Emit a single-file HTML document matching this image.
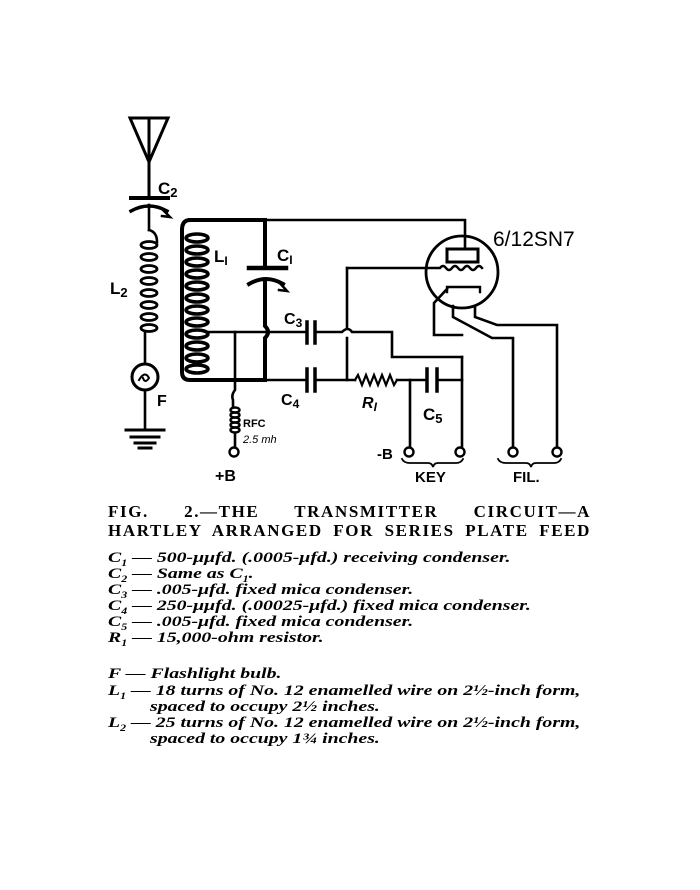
<!DOCTYPE html>
<html><head><meta charset="utf-8"><style>
html,body{margin:0;padding:0;background:#fff;}
body{width:700px;height:890px;position:relative;overflow:hidden;}
svg{position:absolute;left:0;top:0;}
.t{position:absolute;font-family:"Liberation Serif",serif;font-weight:bold;color:#000;white-space:nowrap;}
.h{font-size:17px;left:108px;width:483px;text-align:justify;text-align-last:justify;letter-spacing:1.6px;}
.l{font-size:15px;font-style:italic;left:108px;transform:scaleX(1.32);transform-origin:0 0;}
</style></head><body>
<svg width="700" height="890" viewBox="0 0 700 890" fill="none" stroke="#000" stroke-width="2.6" stroke-linecap="square">
<path d="M130 118 L168 118 L149 162 Z M149 118 L149 198" stroke-width="3"/>
<path d="M131 198 H168" stroke-width="4"/>
<path d="M131 211 Q149 201 167 211" stroke-width="3.5"/>
<path d="M161 208 L170 217 L162 216" stroke-width="2.5"/>
<path d="M149 205 V230"/>
<path d="M149 230 q8 2 8 12" />
<g stroke-width="2.8">
<ellipse cx="149" cy="245" rx="8" ry="3.5"/><ellipse cx="149" cy="257" rx="8" ry="3.5"/>
<ellipse cx="149" cy="269" rx="8" ry="3.5"/><ellipse cx="149" cy="281" rx="8" ry="3.5"/>
<ellipse cx="149" cy="293" rx="8" ry="3.5"/><ellipse cx="149" cy="305" rx="8" ry="3.5"/>
<ellipse cx="149" cy="317" rx="8" ry="3.5"/><ellipse cx="149" cy="328" rx="8" ry="3.5"/>
</g>
<path d="M145 333 V364"/>
<circle cx="145" cy="377" r="13" stroke-width="3"/>
<path d="M139 380 q6 -10 10 -2 q-4 6 -6 0" stroke-width="2"/>
<path d="M145 390 V430"/>
<path d="M126 430 H164 M131 437 H159 M135 443 H155 M139 448 H151" stroke-width="3"/>
<path d="M190 220 H265 M182 230 Q182 220 190 220 M182 230 V372 Q182 380 190 380 H265" stroke-width="4"/>
<g stroke-width="3.5">
<ellipse cx="197" cy="238" rx="11" ry="4"/><ellipse cx="197" cy="250" rx="11" ry="4"/>
<ellipse cx="197" cy="262" rx="11" ry="4"/><ellipse cx="197" cy="274" rx="11" ry="4"/>
<ellipse cx="197" cy="286" rx="11" ry="4"/><ellipse cx="197" cy="298" rx="11" ry="4"/>
<ellipse cx="197" cy="310" rx="11" ry="4"/><ellipse cx="197" cy="322" rx="11" ry="4"/>
<ellipse cx="197" cy="334" rx="11" ry="4"/><ellipse cx="197" cy="346" rx="11" ry="4"/>
<ellipse cx="197" cy="358" rx="11" ry="4"/><ellipse cx="197" cy="369" rx="11" ry="4"/>
</g>
<path d="M265 220 V268" stroke-width="4"/>
<path d="M249 268 H286" stroke-width="4.5"/>
<path d="M249 284 Q266 274 283 284" stroke-width="4"/>
<path d="M278 281 L287 291 L279 290" stroke-width="2.5"/>
<path d="M265 280 V326 Q271 332 265 338 V380" stroke-width="4"/>
<path d="M265 220 H465 V249"/>
<rect x="447" y="249" width="31" height="13" stroke-width="3"/>
<circle cx="462" cy="272" r="36" stroke-width="2.8"/>
<path d="M347 268 H440 q3 -4 6 0 q3 4 6 0 q3 -4 6 0 q3 4 6 0 q3 -4 6 0 q3 4 6 0 q3 -4 6 0" stroke-width="2.4"/>
<path d="M447 292 V287 H480 V292" stroke-width="2.4"/>
<path d="M208 332 H307 M315 332 H342 Q348 326 352 332 H392 V357 H462"/>
<path d="M307 322 V343 M315 322 V343" stroke-width="3.5"/>
<path d="M347 268 V327 M347 338 V380"/>
<path d="M265 380 H307 M315 380 H355 M397 380 H427 M437 380 H462"/>
<path d="M307 369 V391 M315 369 V391 M427 369 V391 M437 369 V391" stroke-width="3.5"/>
<path d="M355 380 l3 -5 l4 10 l4 -10 l4 10 l4 -10 l4 10 l4 -10 l4 10 l4 -10 l4 10 l3 -5" stroke-width="2.2"/>
<path d="M410 380 V446"/>
<circle cx="409" cy="452" r="4.5" stroke-width="2.4"/>
<path d="M447 289 L434 303 V335 H462 M462 357 V446"/>
<circle cx="460" cy="452" r="4.5" stroke-width="2.4"/>
<path d="M453 306 V317 L492 338 H513 V446 M475 306 V317 L497 325 H557 V446"/>
<circle cx="513" cy="452" r="4.5" stroke-width="2.4"/>
<circle cx="557" cy="452" r="4.5" stroke-width="2.4"/>
<path d="M235 332 V380 M235 380 V390 Q231 395 233 400 V407"/>
<g stroke-width="2.4">
<ellipse cx="235" cy="410" rx="4.5" ry="2.5"/><ellipse cx="235" cy="415" rx="4.5" ry="2.5"/>
<ellipse cx="235" cy="420" rx="4.5" ry="2.5"/><ellipse cx="235" cy="425" rx="4.5" ry="2.5"/>
<ellipse cx="235" cy="430" rx="4.5" ry="2.5"/>
</g>
<path d="M235 433 V446"/>
<circle cx="234" cy="452" r="4.5" stroke-width="2.4"/>
<path d="M402 459 Q404 463 410 463 H428 Q432 463 433 467 Q434 463 438 463 H456 Q461 463 463 459" stroke-width="1.8"/>
<path d="M498 459 Q500 463 506 463 H526 Q530 463 531 467 Q532 463 536 463 H554 Q559 463 561 459" stroke-width="1.8"/>
<g fill="#000" stroke="none" font-family="Liberation Sans, sans-serif" font-weight="bold">
<text x="158" y="194" font-size="17">C<tspan font-size="13" dy="3">2</tspan></text>
<text x="110" y="294" font-size="17">L<tspan font-size="13" dy="3">2</tspan></text>
<text x="214" y="262" font-size="17">L<tspan font-size="12" dy="3">I</tspan></text>
<text x="277" y="261" font-size="17">C<tspan font-size="12" dy="3">I</tspan></text>
<text x="284" y="324" font-size="16">C<tspan font-size="12" dy="3">3</tspan></text>
<text x="281" y="405" font-size="16">C<tspan font-size="12" dy="3">4</tspan></text>
<text x="362" y="408" font-size="16" font-style="italic">R<tspan font-size="12" dy="3">I</tspan></text>
<text x="423" y="420" font-size="17">C<tspan font-size="13" dy="3">5</tspan></text>
<text x="157" y="406" font-size="16">F</text>
<text x="243" y="427" font-size="11">RFC</text>
<text x="243" y="443" font-size="11" font-weight="normal" font-style="italic">2.5 mh</text>
<text x="215" y="481" font-size="16">+B</text>
<text x="377" y="459" font-size="15">-B</text>
<text x="415" y="482" font-size="15">KEY</text>
<text x="513" y="482" font-size="15">FIL.</text>
<text x="493" y="246" font-size="21" font-weight="normal">6/12SN7</text>
</g>
</svg>
<div class="t h" style="top:502px;">FIG. 2.—THE TRANSMITTER CIRCUIT—A</div>
<div class="t h" style="top:521px;">HARTLEY ARRANGED FOR SERIES PLATE FEED</div>
<div class="t l" style="top:550px;">C<sub style="font-size:9px">1</sub> — 500-μμfd. (.0005-μfd.) receiving condenser.</div>
<div class="t l" style="top:566px;">C<sub style="font-size:9px">2</sub> — Same as C<sub style="font-size:9px">1</sub>.</div>
<div class="t l" style="top:582px;">C<sub style="font-size:9px">3</sub> — .005-μfd. fixed mica condenser.</div>
<div class="t l" style="top:598px;">C<sub style="font-size:9px">4</sub> — 250-μμfd. (.00025-μfd.) fixed mica condenser.</div>
<div class="t l" style="top:614px;">C<sub style="font-size:9px">5</sub> — .005-μfd. fixed mica condenser.</div>
<div class="t l" style="top:630px;">R<sub style="font-size:9px">1</sub> — 15,000-ohm resistor.</div>
<div class="t l" style="top:666px;">F — Flashlight bulb.</div>
<div class="t l" style="top:683px;">L<sub style="font-size:9px">1</sub> — 18 turns of No. 12 enamelled wire on 2½-inch form,</div>
<div class="t l" style="top:699px;left:150px;">spaced to occupy 2½ inches.</div>
<div class="t l" style="top:715px;">L<sub style="font-size:9px">2</sub> — 25 turns of No. 12 enamelled wire on 2½-inch form,</div>
<div class="t l" style="top:731px;left:150px;">spaced to occupy 1¾ inches.</div>
</body></html>
